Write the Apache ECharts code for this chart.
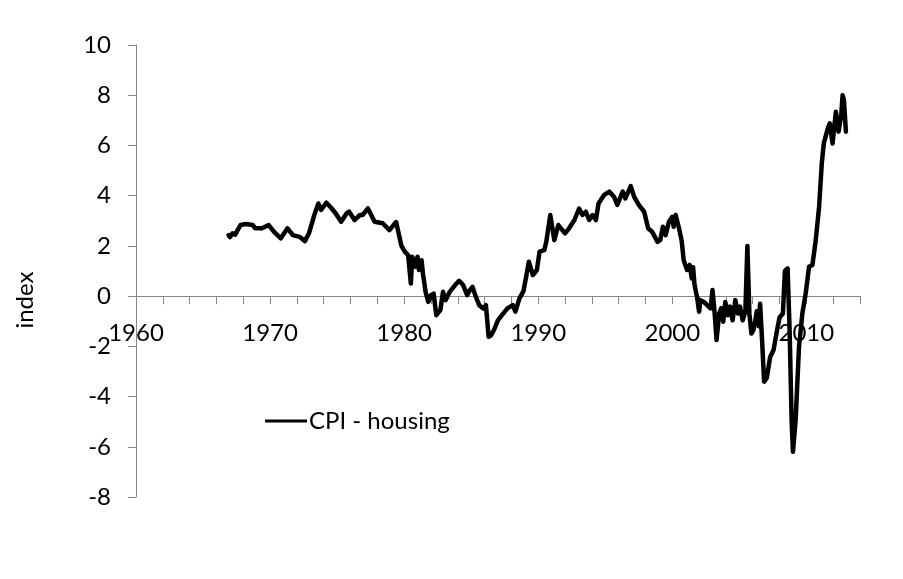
<!DOCTYPE html>
<html>
<head>
<meta charset="utf-8">
<script src="https://cdn.jsdelivr.net/npm/echarts@6/dist/echarts.min.js"></script>
<style>
html,body{margin:0;padding:0;background:#fff;}
#chart{width:903px;height:579px;}
</style>
</head>
<body>
<div id="chart"></div>
<script>
// ---- data ----
const seriesName = 'CPI - housing';
const yAxisTitle = 'index';
const yearLabels = [1960, 1970, 1980, 1990, 2000, 2010];
const years = [
  1966.9, 1967.0, 1967.2, 1967.4, 1967.6, 1967.8, 1968.2, 1968.7, 1968.9, 1969.4,
  1969.9, 1970.3, 1970.8, 1971.3, 1971.7, 1972.2, 1972.6, 1972.9, 1973.3, 1973.6,
  1973.8, 1974.2, 1974.6, 1974.9, 1975.3, 1975.7, 1975.9, 1976.3, 1976.7, 1976.9,
  1977.3, 1977.8, 1978.4, 1978.9, 1979.4, 1979.8, 1980.05, 1980.3, 1980.5, 1980.6,
  1980.8, 1981.0, 1981.1, 1981.3, 1981.4, 1981.6, 1981.8, 1982.0, 1982.2, 1982.4,
  1982.7, 1982.9, 1983.1, 1983.4, 1983.8, 1984.1, 1984.4, 1984.7, 1984.9, 1985.1,
  1985.3, 1985.6, 1985.9, 1986.1, 1986.3, 1986.5, 1986.7, 1987.0, 1987.4, 1987.7,
  1988.1, 1988.3, 1988.6, 1988.9, 1989.1, 1989.3, 1989.6, 1989.9, 1990.1, 1990.45,
  1990.6, 1990.9, 1991.2, 1991.5, 1991.8, 1992.0, 1992.3, 1992.7, 1993.05, 1993.3,
  1993.55, 1993.8, 1994.05, 1994.3, 1994.5, 1994.9, 1995.3, 1995.65, 1995.9, 1996.3,
  1996.5, 1996.9, 1997.15, 1997.5, 1997.9, 1998.2, 1998.5, 1998.9, 1999.1, 1999.3,
  1999.5, 1999.75, 2000.0, 2000.1, 2000.25, 2000.5, 2000.7, 2000.85, 2001.1, 2001.3,
  2001.45, 2001.55, 2001.65, 2001.75, 2001.85, 2002.0, 2002.1, 2002.35, 2002.6, 2002.85,
  2003.0, 2003.15, 2003.3, 2003.5, 2003.65, 2003.8, 2003.95, 2004.15, 2004.3, 2004.5,
  2004.7, 2004.9, 2005.05, 2005.25, 2005.45, 2005.6, 2005.75, 2005.9, 2006.05, 2006.2,
  2006.3, 2006.45, 2006.55, 2006.7, 2006.85, 2007.05, 2007.3, 2007.55, 2007.8, 2008.0,
  2008.25, 2008.4, 2008.6, 2008.75, 2008.9, 2009.0, 2009.2, 2009.45, 2009.7, 2009.95,
  2010.2, 2010.45, 2010.7, 2010.95, 2011.15, 2011.3, 2011.6, 2011.75, 2011.95, 2012.2,
  2012.4, 2012.6, 2012.7, 2012.8, 2012.95
];
const cpiHousing = [
  2.43, 2.35, 2.5, 2.45, 2.65, 2.83, 2.87, 2.83, 2.7, 2.7,
  2.83, 2.56, 2.3, 2.7, 2.43, 2.36, 2.19, 2.5, 3.23, 3.69,
  3.43, 3.72, 3.49, 3.29, 2.96, 3.29, 3.36, 3.03, 3.23, 3.23,
  3.49, 2.96, 2.9, 2.63, 2.95, 2.0, 1.77, 1.63, 0.5, 1.57,
  1.17, 1.57, 1.04, 1.43, 0.9, 0.17, -0.23, 0.04, 0.1, -0.76,
  -0.56, 0.17, -0.16, 0.17, 0.44, 0.61, 0.44, 0.04, 0.24, 0.37,
  0.04, -0.36, -0.49, -0.36, -1.62, -1.55, -1.35, -0.96, -0.69, -0.49,
  -0.36, -0.62, -0.09, 0.2, 0.77, 1.37, 0.84, 1.04, 1.77, 1.83,
  2.16, 3.23, 2.23, 2.83, 2.63, 2.5, 2.7, 3.03, 3.49, 3.23,
  3.36, 3.03, 3.23, 3.03, 3.69, 4.02, 4.16, 3.96, 3.63, 4.16,
  3.89, 4.38, 3.96, 3.63, 3.36, 2.7, 2.56, 2.16, 2.23, 2.76,
  2.43, 2.96, 3.16, 2.76, 3.23, 2.7, 2.2, 1.43, 1.04, 1.24,
  0.7, 1.15, 0.5, 0.2, -0.05, -0.62, -0.16, -0.23, -0.36, -0.49,
  0.24, -0.62, -1.75, -0.69, -0.49, -1.02, -0.23, -0.76, -0.42, -0.96,
  -0.16, -0.69, -0.42, -0.96, -0.62, 2.0, -0.69, -1.49, -1.35, -0.96,
  -0.6, -1.2, -0.3, -1.8, -3.41, -3.25, -2.42, -2.15, -1.4, -0.85,
  -0.69, 1.0, 1.1, -1.35, -4.94, -6.2, -4.94, -2.02, -0.69, 0.11,
  1.17, 1.24, 2.23, 3.56, 5.29, 6.08, 6.68, 6.88, 6.08, 7.34,
  6.55, 7.21, 8.0, 7.81, 6.55
];
const xMin = 1960, xMax = 2014, xStep = 2;
const yMin = -8, yMax = 10, yStep = 2;

const FONT = 'Lato';
const FS = 24;
const axisGrey = '#868686';

const gridTop = 45, gridBottom = 82, chartH = 579;
const gridH = chartH - gridTop - gridBottom;
// shift the x axis up from the grid bottom to the y = 0 line
const xAxisOffset = -gridH * (0 - yMin) / (yMax - yMin);

const points = years.map((y, i) => [y, cpiHousing[i]]);

const chart = echarts.init(document.getElementById('chart'), null, {renderer: 'canvas'});
chart.setOption({
  animation: false,
  backgroundColor: '#ffffff',
  textStyle: {fontFamily: FONT},
  grid: {left: 136, right: 43, top: gridTop, bottom: gridBottom, containLabel: false},
  legend: {
    show: true,
    left: 260,
    top: 404,
    icon: 'rect',
    itemWidth: 42,
    itemHeight: 3,
    itemGap: 10,
    textStyle: {fontFamily: FONT, fontSize: FS, color: '#000', padding: [0,0,0,-3]},
    data: [{name: seriesName, itemStyle: {color: '#000'}}]
  },
  graphic: [{
    type: 'text',
    x: 25,
    y: 300,
    rotation: Math.PI / 2,
    style: {
      text: yAxisTitle,
      font: FS + 'px ' + FONT,
      fill: '#000',
      textAlign: 'center',
      textVerticalAlign: 'middle'
    }
  }],
  xAxis: {
    type: 'value',
    position: 'bottom',
    offset: xAxisOffset,
    min: xMin,
    max: xMax,
    interval: xStep,
    axisLine: {show: true, onZero: false, lineStyle: {color: axisGrey, width: 1}},
    axisTick: {show: true, inside: false, length: 8, lineStyle: {color: axisGrey, width: 1}},
    splitLine: {show: false},
    axisLabel: {
      show: true,
      margin: 25,
      fontFamily: FONT,
      fontSize: FS,
      color: '#000',
      showMinLabel: true,
      showMaxLabel: true,
      hideOverlap: false,
      formatter: function (v) {
        return yearLabels.indexOf(Math.round(v)) >= 0 && Math.abs(v - Math.round(v)) < 1e-6 ? String(Math.round(v)) : '';
      }
    }
  },
  yAxis: {
    type: 'value',
    min: yMin,
    max: yMax,
    interval: yStep,
    axisLine: {show: true, onZero: false, lineStyle: {color: axisGrey, width: 1}},
    axisTick: {show: true, inside: false, length: 8, lineStyle: {color: axisGrey, width: 1}},
    splitLine: {show: false},
    axisLabel: {
      margin: 25,
      fontFamily: FONT,
      fontSize: FS,
      color: '#000'
    }
  },
  series: [{
    name: seriesName,
    type: 'line',
    data: points,
    showSymbol: false,
    symbol: 'none',
    smooth: false,
    z: 3,
    lineStyle: {color: '#000', width: 4.5, join: 'round', cap: 'round'},
    itemStyle: {color: '#000'},
    emphasis: {disabled: true}
  }]
});
</script>
</body>
</html>
